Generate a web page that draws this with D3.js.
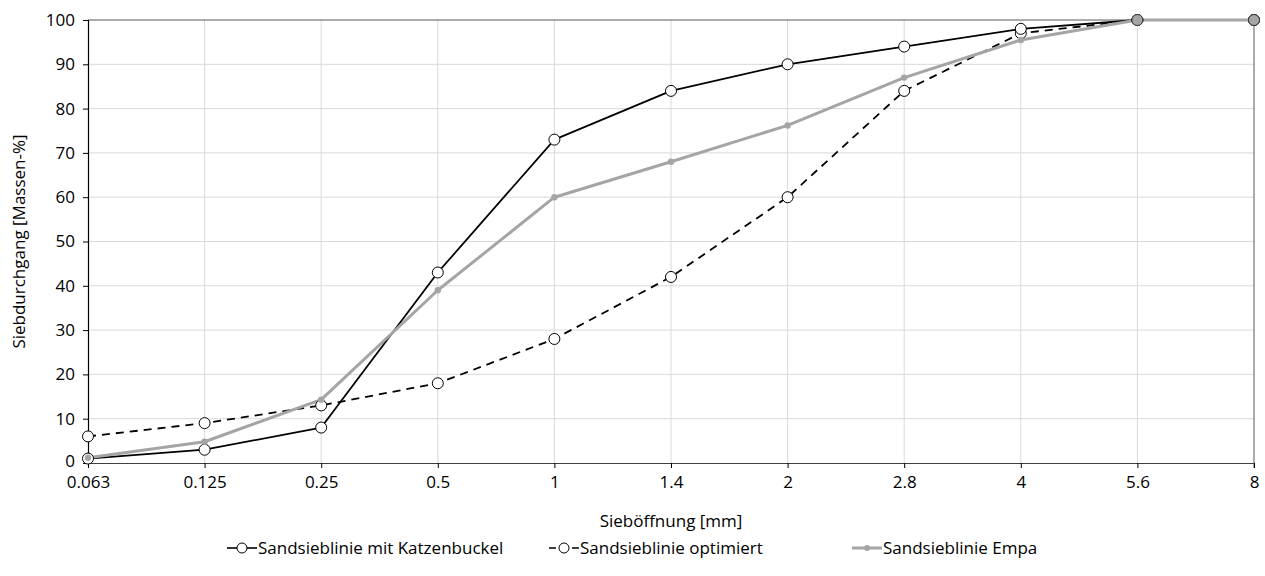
<!DOCTYPE html>
<html>
<head>
<meta charset="utf-8">
<script src="https://cdn.jsdelivr.net/npm/d3@7"></script>
<style>
  body { margin: 0; background: #fff; }
  svg { font-family: "Open Sans", Lato, sans-serif; }
</style>
</head>
<body>
<svg id="chart" width="1265" height="576"></svg>
<script>
// Sieve sizes [mm] and passing percentages for three sand grading curves
const sieves = ["0.063", "0.125", "0.25", "0.5", "1", "1.4", "2", "2.8", "4", "5.6", "8"];
const katzenbuckel = [1, 3, 8, 43, 73, 84, 90, 94, 98, 100, 100];
const optimiert = [6, 9, 13, 18, 28, 42, 60, 84, 97, 100, 100];
const empa = [1.2, 4.8, 14.3, 39, 60, 68, 76.2, 87, 95.5, 100, 100];
const yTicks = [0, 10, 20, 30, 40, 50, 60, 70, 80, 90, 100];

const svg = d3.select("#chart");
const margin = { left: 88, right: 11, top: 20, bottom: 113 };
const W = 1265, H = 576;
const FS = 17;
const x = d3.scalePoint().domain(sieves).range([margin.left, W - margin.right]);
const y = d3.scaleLinear().domain([0, 100]).range([H - margin.bottom, margin.top]);

const gridColor = "#d9d9d9";
const grey = "#a5a5a5";

// gridlines
svg.append("g").selectAll("line").data(yTicks.slice(1, -1)).join("line")
  .attr("x1", x.range()[0]).attr("x2", x.range()[1])
  .attr("y1", d => y(d)).attr("y2", d => y(d))
  .attr("stroke", gridColor).attr("stroke-width", 1);
svg.append("g").selectAll("line").data(sieves.slice(1, -1)).join("line")
  .attr("x1", d => x(d)).attr("x2", d => x(d))
  .attr("y1", y(0)).attr("y2", y(100))
  .attr("stroke", gridColor).attr("stroke-width", 1);

// frame: top and right edge
svg.append("line").attr("x1", x.range()[0]).attr("x2", x.range()[1])
  .attr("y1", y(100)).attr("y2", y(100)).attr("stroke", "#595959").attr("stroke-width", 1);
svg.append("line").attr("x1", x.range()[1]).attr("x2", x.range()[1])
  .attr("y1", y(100)).attr("y2", y(0) + 5).attr("stroke", "#7f7f7f").attr("stroke-width", 1.3);

// axes
const yAxis = svg.append("g").attr("transform", `translate(${margin.left},0)`)
  .call(d3.axisLeft(y).tickValues(yTicks).tickSize(5).tickPadding(8));
const xAxis = svg.append("g").attr("transform", `translate(0,${y(0)})`)
  .call(d3.axisBottom(x).tickSize(5).tickPadding(10));
[yAxis, xAxis].forEach(g => {
  g.select(".domain").attr("stroke", "#000").attr("stroke-width", 1.2);
  g.selectAll(".tick line").attr("stroke", "#000");
  g.selectAll(".tick text").attr("font-size", FS).attr("fill", "#000")
    .attr("font-family", "'Open Sans', Lato, sans-serif");
});
yAxis.select(".domain").attr("d", `M0.5,${y(0)}V${y(100)}`);
xAxis.select(".domain").attr("d", `M${x.range()[0]},0.5H${x.range()[1]}`).attr("stroke", "#404040");
xAxis.selectAll(".tick text").attr("dy", "0.6em");
// keep the lowest y label clear of the first x label
yAxis.selectAll(".tick text").filter(d => d === 0).attr("dy", "0.2em");

// axis titles
svg.append("text").attr("x", (x.range()[0] + x.range()[1]) / 2).attr("y", 527)
  .attr("text-anchor", "middle").attr("font-size", FS).text("Sieböffnung [mm]");
svg.append("text").attr("transform", `translate(25,${(y(0) + y(100)) / 2}) rotate(-90)`)
  .attr("text-anchor", "middle").attr("font-size", FS).text("Siebdurchgang [Massen-%]");

const line = d3.line().x((d, i) => x(sieves[i])).y(d => y(d));

const series = [
  { name: "Sandsieblinie optimiert", values: optimiert, color: "#000", width: 1.8, dash: "8,6", marker: "open" },
  { name: "Sandsieblinie mit Katzenbuckel", values: katzenbuckel, color: "#000", width: 1.8, dash: null, marker: "open" },
  { name: "Sandsieblinie Empa", values: empa, color: grey, width: 3, dash: null, marker: "dot" }
];

series.forEach(s => {
  svg.append("path").datum(s.values).attr("d", line)
    .attr("fill", "none").attr("stroke", s.color).attr("stroke-width", s.width)
    .attr("stroke-dasharray", s.dash).attr("stroke-linejoin", "round");
});
series.forEach(s => {
  const pts = svg.append("g").selectAll("circle").data(s.values).join("circle")
    .attr("cx", (d, i) => x(sieves[i])).attr("cy", d => y(d));
  if (s.marker === "open") {
    pts.attr("r", 5.5).attr("fill", "#fff").attr("stroke", "#000").attr("stroke-width", 1);
  } else {
    pts.attr("r", 3.2).attr("fill", grey);
  }
});

// points shared by all three curves: grey fill over the open circles
const shared = sieves.map((s, i) => i).filter(i =>
  katzenbuckel[i] === optimiert[i] && optimiert[i] === empa[i]);
svg.append("g").selectAll("circle").data(shared).join("circle")
  .attr("cx", i => x(sieves[i])).attr("cy", i => y(empa[i]))
  .attr("r", 5.5).attr("fill", grey).attr("stroke", "#404040").attr("stroke-width", 1);

// legend
const legendItems = [
  { s: series[1], x0: 227 },
  { s: series[0], x0: 549 },
  { s: series[2], x0: 852 }
];
const ly = 548;
legendItems.forEach(({ s, x0 }) => {
  const g = svg.append("g");
  g.append("line").attr("x1", x0).attr("x2", x0 + 30).attr("y1", ly).attr("y2", ly)
    .attr("stroke", s.color).attr("stroke-width", s.width === 3 ? 3 : 1.6)
    .attr("stroke-dasharray", s.dash ? "7,16" : null);
  if (s.marker === "open") {
    g.append("circle").attr("cx", x0 + 15).attr("cy", ly).attr("r", 5)
      .attr("fill", "#fff").attr("stroke", "#000").attr("stroke-width", 1);
  } else {
    g.append("circle").attr("cx", x0 + 15).attr("cy", ly).attr("r", 3).attr("fill", grey);
  }
  g.append("text").attr("x", x0 + 31).attr("y", ly + 6).attr("font-size", FS).text(s.name);
});
</script>
</body>
</html>
